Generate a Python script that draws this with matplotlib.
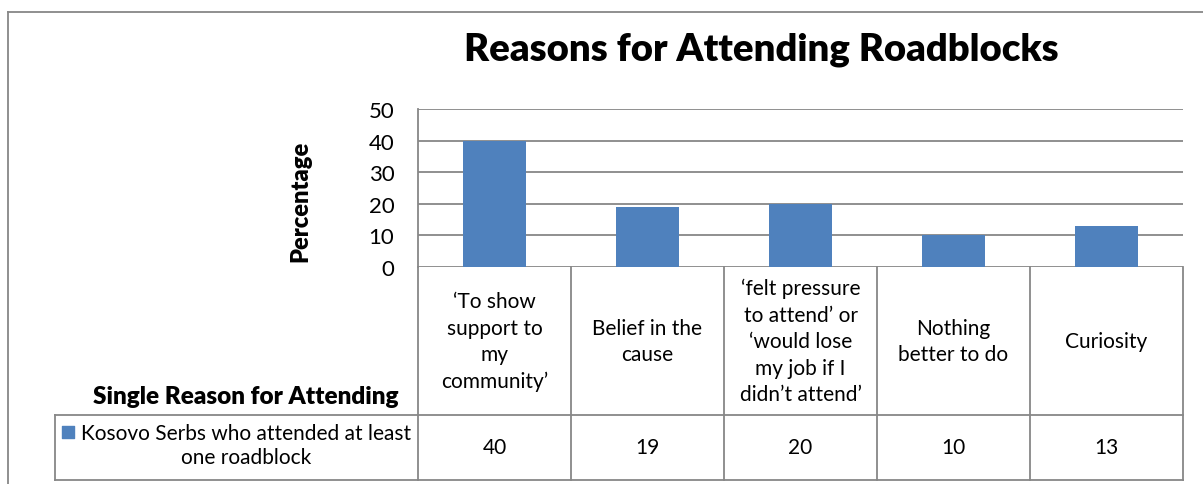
import matplotlib.pyplot as plt

# ─────────────────────────────────────────────────────────────
# Data
# ─────────────────────────────────────────────────────────────
categories = [
    "\u2018To show\nsupport to\nmy\ncommunity\u2019",
    "Belief in the\ncause",
    "\u2018felt pressure\nto attend\u2019 or\n\u2018would lose\nmy job if I\ndidn\u2019t attend\u2019",
    "Nothing\nbetter to do",
    "Curiosity",
]
values = [40, 19, 20, 10, 13]
series_name = "Kosovo Serbs who attended at least\none roadblock"
yticks = [0, 10, 20, 30, 40, 50]

title = "Reasons for Attending Roadblocks"
ylabel = "Percentage"
xlabel = "Single Reason for Attending"

# ─────────────────────────────────────────────────────────────
# Layout (pixel space of a 1203x485 image)
# ─────────────────────────────────────────────────────────────
W, H = 1203, 485
PL, PR, PT, PB = 418, 1183, 110, 268      # plot area
ROW1, ROW2 = 416, 481                      # table row bottoms
LEG_LEFT = 55

bar_color = '#4F81BD'
line_color = '#878787'
plt.rcParams['font.family'] = ['Lato', 'DejaVu Sans']

fig = plt.figure(figsize=(W / 100, H / 100), dpi=100)
ax = fig.add_axes([PL / W, 1 - PB / H, (PR - PL) / W, (PB - PT) / H])

x = list(range(len(values)))
ax.bar(x, values, width=0.41, color=bar_color, zorder=3)
ax.set_xlim(-0.5, len(values) - 0.5)
ax.set_ylim(0, 50)
ax.set_yticks(yticks)
ax.tick_params(axis='y', length=0, pad=17, labelsize=16)
ax.set_xticks([])
ax.yaxis.grid(True, color=line_color, linewidth=1.3, zorder=0)
for side in ['top', 'right', 'bottom']:
    ax.spines[side].set_visible(False)
ax.spines['left'].set_color(line_color)
ax.spines['left'].set_linewidth(1.3)


def px2x(px):
    # figure pixel column -> data x
    return -0.5 + (px - PL) / (PR - PL) * len(values)


def px2y(py):
    # figure pixel row -> axes fraction
    return (PB - py) / (PB - PT)


tr = ax.get_xaxis_transform()
kw = dict(transform=tr, clip_on=False, color=line_color, linewidth=1.3)

# table grid
for i in range(len(values) + 1):
    ax.plot([i - 0.5, i - 0.5], [px2y(PB), px2y(ROW2)], **kw)
ax.plot([px2x(LEG_LEFT), px2x(LEG_LEFT)], [px2y(ROW1), px2y(ROW2)], **kw)
ax.plot([px2x(LEG_LEFT), len(values) - 0.5], [px2y(ROW1)] * 2, **kw)
ax.plot([px2x(LEG_LEFT), len(values) - 0.5], [px2y(ROW2)] * 2, **kw)

# table texts
for i, (cat, val) in enumerate(zip(categories, values)):
    ax.text(i, px2y((PB + ROW1) / 2), cat, transform=tr, ha='center',
            va='center', fontsize=15, linespacing=1.4)
    ax.text(i, px2y((ROW1 + ROW2) / 2), str(val), transform=tr,
            ha='center', va='center', fontsize=15)

# legend cell
ax.text(px2x(246), px2y(446), series_name, transform=tr, ha='center',
        va='center', fontsize=15, linespacing=1.3)
ax.scatter([px2x(68)], [px2y(433)], transform=tr, marker='s', s=75,
           color=bar_color, clip_on=False)

# titles
fig.text(761 / W, 1 - 50 / H, title, ha='center', va='center',
         fontsize=27.5, fontweight='heavy')
fig.text(300 / W, 1 - 201 / H, ylabel, ha='center', va='center',
         rotation=90, fontsize=17, fontweight='heavy')
fig.text(398 / W, 1 - 397 / H, xlabel, ha='right', va='center',
         fontsize=17.5, fontweight='heavy')

# outer chart frame (partly cut off)
fig.add_artist(plt.Line2D([8 / W, 8 / W], [0, 1 - 13 / H],
                          color=line_color, linewidth=1.3))
fig.add_artist(plt.Line2D([8 / W, 1], [1 - 13 / H, 1 - 13 / H],
                          color=line_color, linewidth=1.3))

fig.savefig('out.png', dpi=100)
